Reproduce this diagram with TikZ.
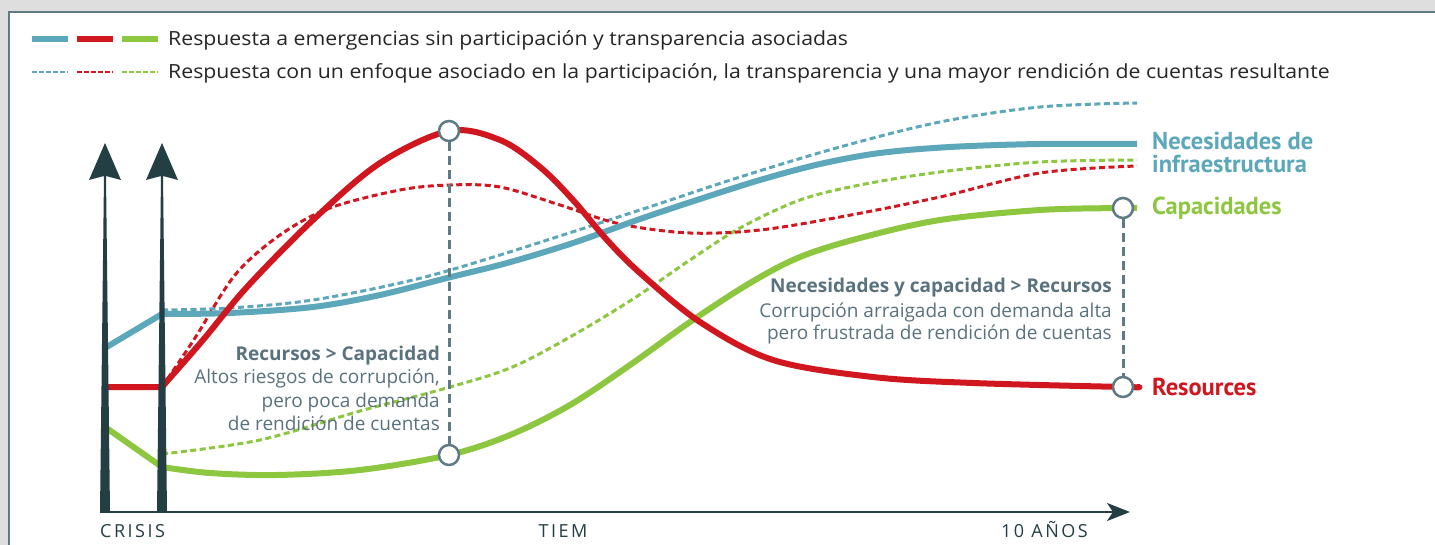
\documentclass[tikz,border=0pt]{standalone}
\usepackage{fontspec}
\setmainfont{Open Sans}
\newfontfamily\legfont[FakeStretch=1.09]{Open Sans}
\newfontfamily\labfont{PT Sans}
\newfontfamily\axfont[LetterSpace=14]{Open Sans}
\usetikzlibrary{arrows.meta}
\definecolor{needblue}{HTML}{5DA7BA}
\definecolor{resred}{HTML}{D0161F}
\definecolor{capgreen}{HTML}{8DC63F}
\definecolor{axisdark}{HTML}{243F44}
\definecolor{notegray}{HTML}{5A727E}
\definecolor{framegray}{HTML}{5E7A84}
\definecolor{bggray}{HTML}{DEDEDE}
\begin{document}
\begin{tikzpicture}[x=1pt, y=-1pt,
  resp/.style = {line width=6pt, line join=round},
  assoc/.style = {line width=3pt, dash pattern=on 6pt off 3.5pt},
  crv/.style = {smooth, tension=0.55},
  dot/.style = {circle, draw=framegray, fill=white, line width=2.5pt, minimum size=20pt, inner sep=0pt},
  gap/.style = {draw=framegray, line width=3pt, dash pattern=on 9pt off 5pt},
  legtext/.style = {font=\legfont\fontsize{19.5}{23}\selectfont, text=black!85, anchor=base west, inner sep=0pt},
  note/.style = {font=\fontsize{19}{23}\selectfont, text=notegray, anchor=base east, inner sep=0pt},
  notehead/.style = {note, font=\fontsize{19}{23}\selectfont\bfseries},
  lbl/.style = {font=\labfont\fontsize{24.5}{24.5}\selectfont\bfseries, anchor=base west, inner sep=0pt},
  axlbl/.style = {font=\axfont\fontsize{18}{18}\selectfont, text=axisdark, inner sep=0pt}]
\useasboundingbox (0,0) rectangle (1435,545);
\fill[bggray] (0,0) rectangle (1435,545);
\fill[white] (9,12) rectangle (1435,545);
\draw[framegray, line width=2pt] (9,545) -- (9,12) -- (1435,12);

\draw[line width=6.5pt, needblue] (32,39) -- (68,39);
\draw[line width=6.5pt, resred] (77,39) -- (113,39);
\draw[line width=6.5pt, capgreen] (122,39) -- (158,39);
\draw[line width=2.5pt, needblue, dash pattern=on 5pt off 2pt] (32,72) -- (68,72);
\draw[line width=2.5pt, resred, dash pattern=on 5pt off 2pt] (77,72) -- (113,72);
\draw[line width=2.5pt, capgreen, dash pattern=on 5pt off 2pt] (122,72) -- (158,72);
\node[legtext] (leg1) at (168,46) {Respuesta a emergencias sin participación y transparencia asociadas};
\node[legtext] (leg2) at (168,79) {Respuesta con un enfoque asociado en la participación, la transparencia y una mayor rendición de cuentas resultante};

\draw[assoc, needblue] plot[crv] coordinates {(162,310) (230,308) (313,300) (413,280) (500,255) (640,210) (740,177) (840,147) (940,122) (1040,107) (1137,103)};
\draw[assoc, capgreen] plot[crv] coordinates {(162,454) (260,440) (360,411) (443,389) (510,368) (570,337) (633,299) (690,260) (740,228) (800,200) (860,185) (940,172) (1040,162) (1137,160)};
\draw[assoc, resred] plot[crv] coordinates {(162,387) (195,338) (235,275) (280,235) (330,208) (400,190) (450,185) (500,187) (560,205) (620,224) (690,233) (760,230) (840,217) (940,197) (1040,173) (1137,166)};

\draw[resp, needblue] (105,348) -- plot[crv] coordinates {(162,314) (230,313) (313,307) (380,295) (447,278) (507,263) (573,243) (640,219) (700,199) (760,180) (820,164) (880,153) (950,147) (1040,144) (1137,144)};
\draw[resp, capgreen] (105,427) -- plot[crv] coordinates {(162,467) (210,473) (277,475) (360,470) (449,455) (510,435) (570,405) (630,365) (690,322) (750,283) (800,257) (860,238) (940,220) (1040,210) (1123,208) (1137,208)};
\draw[resp, resred] (105,387) -- plot[crv] coordinates {(162,387) (203,340) (247,287) (313,220) (380,163) (449,131) (500,140) (540,167) (573,200) (607,240) (640,273) (700,322) (773,360) (873,377) (973,383) (1123,387) (1137,387)};

\node[dot] (peak) at (449,131) {};
\node[dot] (low) at (449,455) {};
\node[dot] (capend) at (1123,208) {};
\node[dot] (resend) at (1123,387) {};
\draw[gap] (peak) -- (low);
\draw[gap] (capend) -- (resend);

\foreach \c in {105,162}
  \fill[axisdark] (\c-5,512) -- (\c-1,176) -- (\c-16,180) -- (\c,143) -- (\c+16,180) -- (\c+1,176) -- (\c+5,512) -- cycle;
\coordinate (origin) at (100,512);
\coordinate (tend) at (1130,512);
\draw[axisdark, line width=2pt, -{Stealth[length=23pt, width=18pt, inset=6pt]}] (origin) -- (tend);

\node[notehead] (lefthead) at (440,360) {Recursos > Capacidad};
\node[note] (left1) at (440,383) {Altos riesgos de corrupción,};
\node[note] (left2) at (440,407) {pero poca demanda};
\node[note] (left3) at (440,430) {de rendición de cuentas};
\node[notehead] (righthead) at (1112,293) {Necesidades y capacidad > Recursos};
\node[note] (right1) at (1112,317) {Corrupción arraigada con demanda alta};
\node[note] (right2) at (1112,340) {pero frustrada de rendición de cuentas};

\node[lbl, text=needblue] (needs) at (1152,150) {Necesidades de};
\node[lbl, text=needblue] (infra) at (1152,173) {infraestructura};
\node[lbl, text=capgreen] (caps) at (1152,215) {Capacidades};
\node[lbl, text=resred] (res) at (1152,395) {Resources};

\node[axlbl, anchor=base west] (crisis) at (100,537) {CRISIS};
\node[axlbl, anchor=base] (tiem) at (563,537) {TIEM};
\node[axlbl, anchor=base east] (years) at (1088,537) {10 AÑOS};
\end{tikzpicture}
\end{document}
